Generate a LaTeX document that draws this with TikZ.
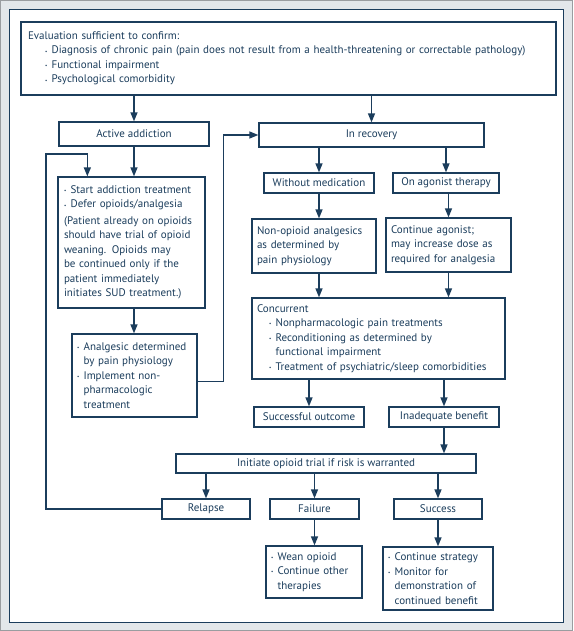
\documentclass[tikz,border=0pt]{standalone}
\usepackage{fontspec}
\setmainfont{PT Sans}
\usetikzlibrary{arrows.meta}
\definecolor{fNavy}{HTML}{1B3D5C}
\definecolor{fStrip}{HTML}{E3E7EA}
\definecolor{fEdge}{HTML}{9A9DA0}
\newcommand{\bul}{\makebox[0.6em][l]{\raisebox{0.15ex}{\tiny\textbullet}}}
\newcommand{\fs}{\fontsize{11}{14.5}\selectfont}

\begin{document}
\begin{tikzpicture}[x=1pt, y=-1pt,
    box/.style={draw=fNavy, line width=1.3pt, fill=white, text=fNavy, inner sep=0pt, font=\fs},
    lbox/.style={box, align=left, inner xsep=5pt},
    arr/.style={draw=fNavy, line width=1.4pt, -{Triangle[length=9pt, width=7pt]}}]
  \useasboundingbox (0,0) rectangle (573,631);
  % frame
  \fill[fStrip, draw=fEdge, line width=1pt] (0.5,0.5) rectangle (572.5,630.5);
  \fill[white, draw=fNavy, line width=1.5pt] (9.5,9.5) rectangle (563.5,622.5);

  % top
  \node[lbox, inner xsep=7pt, text width=521pt, minimum height=73pt] (eval) at (288.5,58.5)
    {Evaluation sufficient to confirm:\\
     \hspace*{17pt}\bul Diagnosis of chronic pain (pain does not result from a health-threatening or correctable pathology)\\
     \hspace*{17pt}\bul Functional impairment\\
     \hspace*{17pt}\bul Psychological comorbidity};

  % left branch
  \node[box, minimum width=150pt, minimum height=24pt] (active) at (134,134) {Active addiction};
  \node[lbox, inner xsep=6pt, text width=135pt, minimum height=131pt] (start) at (131.5,242.5)
    {\mbox{\bul Start addiction treatment}\\
     \mbox{\bul Defer opioids/analgesia}\\[2pt]
     \mbox{(Patient already on opioids}\\
     \mbox{should have trial of opioid}\\
     \mbox{weaning. Opioids may}\\
     \mbox{be continued only if the}\\
     \mbox{patient immediately}\\
     \mbox{initiates SUD treatment.)}};
  \node[lbox, text width=115pt, minimum height=83pt] (analg) at (134.5,375.5)
    {\bul Analgesic determined\\
     \hphantom{\bul}by pain physiology\\
     \bul Implement non-\\
     \hphantom{\bul}pharmacologic\\
     \hphantom{\bul}treatment};

  % right branch
  \node[box, minimum width=225pt, minimum height=24pt] (recov) at (371.5,135) {In recovery};
  \node[box, minimum width=110pt, minimum height=20pt] (nomed) at (319,183) {Without medication};
  \node[box, minimum width=106pt, minimum height=20pt] (agon) at (446,183) {On agonist therapy};
  \node[lbox, text width=114pt, minimum height=54pt] (nonop) at (314,246)
    {Non-opioid analgesics\\
     as determined by\\
     pain physiology};
  \node[lbox, text width=115pt, minimum height=54pt] (contag) at (448.5,245)
    {Continue agonist;\\
     may increase dose as\\
     required for analgesia};
  \node[lbox, text width=243pt, minimum height=81pt] (concur) at (378.5,338.5)
    {Concurrent\\
     \hspace*{12pt}\bul Nonpharmacologic pain treatments\\
     \hspace*{12pt}\bul Reconditioning as determined by\\
     \hspace*{12pt}\hphantom{\bul}functional impairment\\
     \hspace*{12pt}\bul Treatment of psychiatric/sleep comorbidities};
  \node[box, minimum width=110pt, minimum height=20pt] (succout) at (309,417) {Successful outcome};
  \node[box, minimum width=110pt, minimum height=20pt] (inadeq) at (444,417) {Inadequate benefit};

  % opioid trial
  \node[box, minimum width=300pt, minimum height=19pt] (trial) at (326,463.5) {Initiate opioid trial if risk is warranted};
  \node[box, minimum width=88pt, minimum height=20pt] (relapse) at (206,509) {Relapse};
  \node[box, minimum width=89pt, minimum height=20pt] (failure) at (314.5,509) {Failure};
  \node[box, minimum width=88pt, minimum height=20pt] (success) at (438,509) {Success};
  \node[lbox, text width=86pt, minimum height=52pt] (wean) at (314,572)
    {\bul Wean opioid\\
     \bul Continue other\\
     \hphantom{\bul}therapies};
  \node[lbox, text width=100pt, minimum height=63pt] (strat) at (438,578.5)
    {\bul Continue strategy\\
     \bul Monitor for\\
     \hphantom{\bul}demonstration of\\
     \hphantom{\bul}continued benefit};

  \coordinate (loop) at (46,154);

  % connectors
  \draw[arr] (eval.south -| active) -- (active);
  \draw[arr] (eval.south -| recov) -- (recov);
  \draw[arr] (active) -- (active |- start.north);
  \draw[arr] (relapse.west) -| (loop) -| ([xshift=30pt]start.north west);
  \draw[arr] (start.south -| active) -- (active |- analg.north);
  \draw[arr] ([yshift=-6pt]analg.east) -- ++(26,0) |- (recov.west);
  \draw[arr] (recov.south -| nomed) -- (nomed);
  \draw[arr] (recov.south -| agon) -- (agon);
  \draw[arr] (nomed) -- (nomed |- nonop.north);
  \draw[arr] (contag.north |- agon.south) -- (contag);
  \draw[arr] (nomed |- nonop.south) -- (nomed |- concur.north);
  \draw[arr] (contag) -- (contag |- concur.north);
  \draw[arr] (concur.south -| succout) -- (succout);
  \draw[arr] (concur.south -| inadeq) -- (inadeq);
  \draw[arr] (inadeq) -- (inadeq |- trial.north);
  \draw[arr] (trial.south -| relapse) -- (relapse);
  \draw[arr] (trial.south -| failure) -- (failure);
  \draw[arr] (trial.south -| success) -- (success);
  \draw[arr] (failure) -- (failure |- wean.north);
  \draw[arr] (success) -- (success |- strat.north);
\end{tikzpicture}
\end{document}
